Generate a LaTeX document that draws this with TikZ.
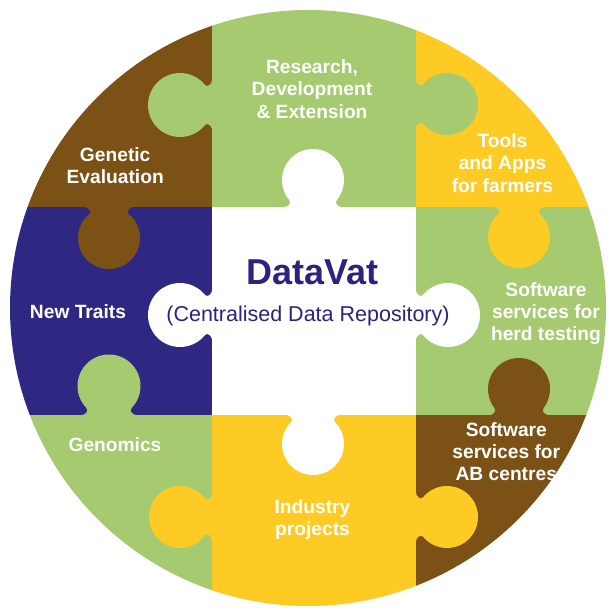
\documentclass[tikz,border=0pt]{standalone}
\usepackage{fontspec}
\setmainfont{Liberation Sans}
\definecolor{pzbrown}{RGB}{124,81,22}
\definecolor{pzgreen}{RGB}{165,202,112}
\definecolor{pzyellow}{RGB}{253,203,35}
\definecolor{pznavy}{RGB}{46,40,131}
\definecolor{pztext}{RGB}{42,36,128}
% knob: colour, centre x, centre y, rotation, distance centre->edge, radius
\newcommand\pzknob[6]{%
  \begin{scope}[shift={(#2,#3)},rotate=#4]
    \pgfmathsetmacro\kd{#5}
    \pgfmathsetmacro\kr{#6}
    \pgfmathsetmacro\khy{\kd-7}
    \pgfmathsetmacro\khx{sqrt(\kr*\kr-\khy*\khy)}
    \pgfmathsetmacro\kw{\khx+4.5}
    \pgfmathsetmacro\kcx{\khx-4*\khy/\kr}
    \pgfmathsetmacro\kcy{\khy+4*\khx/\kr}
    \fill[#1] (0,0) circle[radius=\kr];
    \fill[#1] (-\kw,\kd+1) -- (-\kw,\kd) .. controls (-\kw+3,\kd) and (-\kcx,\kcy) .. (-\khx,\khy)
      -- (0,0) -- (\khx,\khy) .. controls (\kcx,\kcy) and (\kw-3,\kd) .. (\kw,\kd) -- (\kw,\kd+1) -- cycle;
  \end{scope}}
\begin{document}
\begin{tikzpicture}[x=1pt,y=-1pt,
  lbl/.style={font=\fontsize{19.2}{22.3}\selectfont\bfseries, text=white, align=center, inner sep=0pt, anchor=north},
  lblone/.style={font=\fontsize{19.2}{22.3}\selectfont\bfseries, text=white, inner sep=0pt, anchor=base}]
\useasboundingbox (0,0) rectangle (611,612);
\begin{scope}
  \clip (308,308) circle[radius=298];
  % cells
  \fill[pzbrown]  (0,0) rectangle (212.5,207.5);
  \fill[pzgreen]  (212,0) rectangle (416.5,207.5);
  \fill[pzyellow] (416,0) rectangle (611,207.5);
  \fill[pznavy]   (0,207) rectangle (212.5,415.5);
  \fill[pzgreen]  (416,207) rectangle (611,415.5);
  \fill[pzgreen]  (0,415) rectangle (212.5,612);
  \fill[pzyellow] (212,415) rectangle (416.5,612);
  \fill[pzbrown]  (416,415) rectangle (611,612);
  \fill[white]    (212,207) rectangle (416,415);
  % knobs
  \pzknob{pzgreen}{180}{105}{90}{32}{32}
  \pzknob{pzgreen}{447}{104}{-90}{31}{31}
  \pzknob{pzbrown}{109}{238}{180}{31}{31}
  \pzknob{pzyellow}{519}{237}{180}{30}{31}
  \pzknob{white}{313}{180}{0}{27}{31}
  \pzknob{white}{180}{315}{90}{32}{32}
  \pzknob{white}{448}{315}{-90}{32}{32}
  \pzknob{white}{313}{444}{180}{29}{31}
  \pzknob{pzgreen}{109}{386}{0}{29}{31.5}
  \pzknob{pzbrown}{519}{389}{0}{26}{31}
  \pzknob{pzyellow}{180}{517}{90}{32}{31}
  \pzknob{pzyellow}{447}{517}{-90}{31}{31}
\end{scope}
% labels
\node[lbl] (gen) at (115.2,147) {Genetic\\Evaluation};
\node[lbl] (res) at (312,59.3) {Research,\\Development\\\& Extension};
\node[lbl] (tools) at (502.5,133.3) {Tools\\and Apps\\for farmers};
\node[lbl] (herd) at (546,282) {Software\\services for\\herd testing};
\node[lbl] (ab) at (506.3,422) {Software\\services for\\AB centres};
\node[lbl] (ind) at (312.5,499.3) {Industry\\projects};
\node[lblone] (gnm) at (115,451.7) {Genomics};
\node[lblone] (nt) at (78,318.3) {New Traits};
\node[font=\fontsize{36}{40}\selectfont\bfseries, text=pztext, inner sep=0pt, anchor=base] (dv) at (312.5,284.3) {DataVat};
\node[font=\fontsize{21.5}{24}\selectfont, text=pztext, inner sep=0pt, anchor=base] (cdr) at (308,321.5) {(Centralised Data Repository)};
\end{tikzpicture}
\end{document}
